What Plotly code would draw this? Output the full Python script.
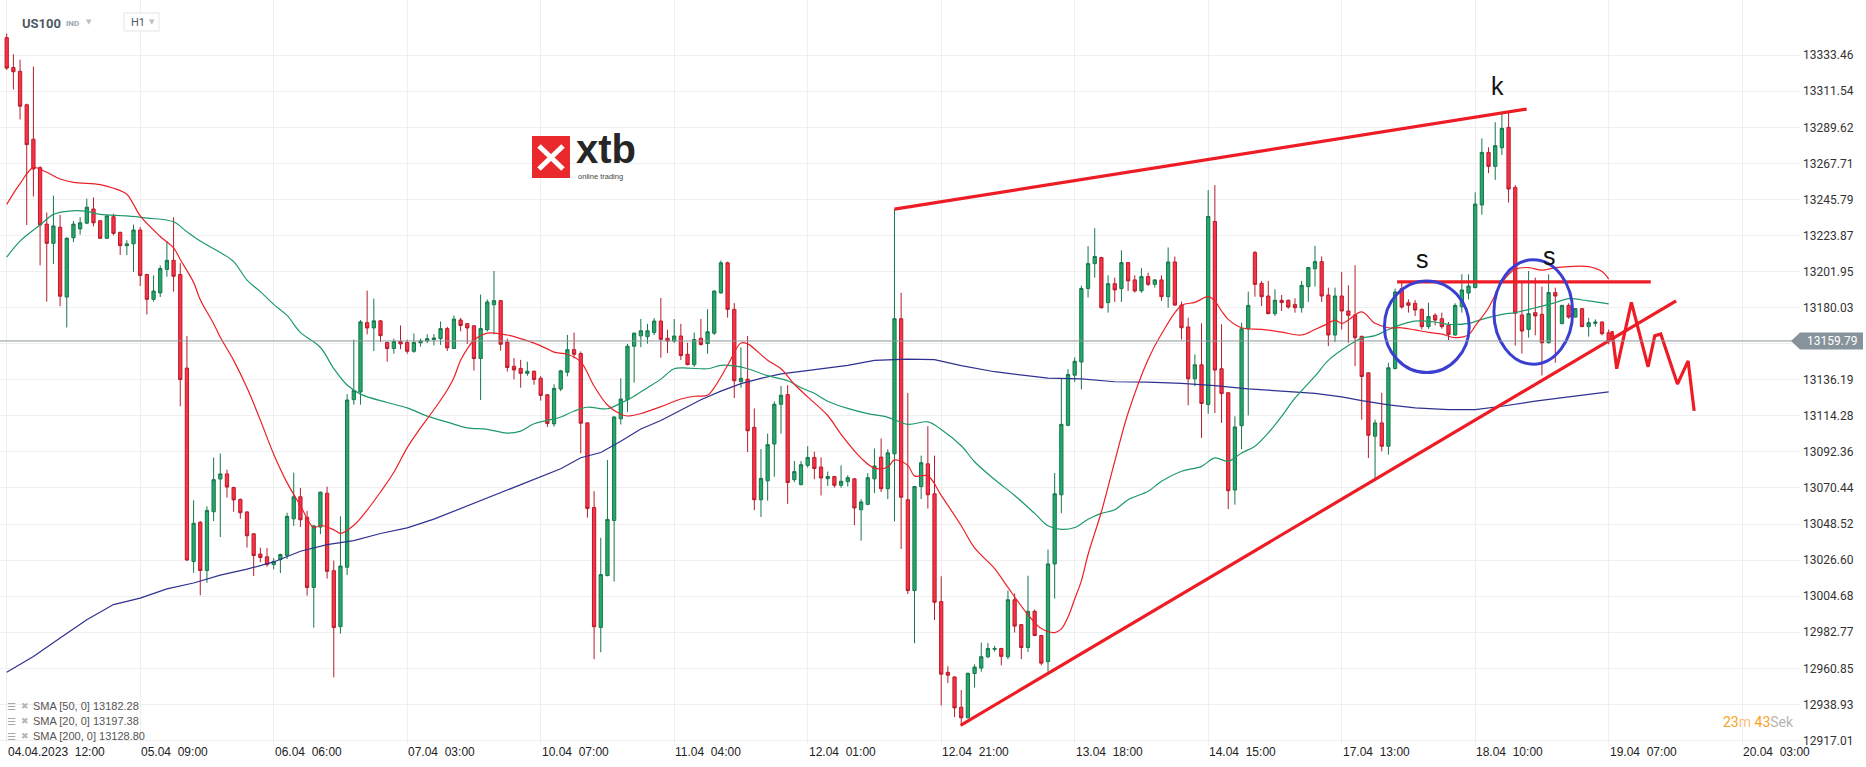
import plotly.graph_objects as go

# ---------------- data (H1 candles, index 0 = 04.04.2023 12:00) ----------------
opens = [
    13344.1, 13326.0, 13323.7, 13303.3, 13282.4, 13265.1, 13230.8, 13219.1, 13228.9, 13186.5,
    13222.5, 13227.9, 13231.4, 13240.0, 13232.8, 13222.2, 13235.3, 13225.8, 13217.7, 13218.8,
    13227.2, 13200.2, 13185.1, 13189.0, 13203.3, 13208.8, 13200.2, 13143.3, 13025.8, 13049.6,
    13020.3, 13056.0, 13075.9, 13079.0, 13070.7, 13063.5, 13055.9, 13042.6, 13030.3, 13028.6,
    13023.9, 13026.9, 13029.5, 13051.7, 13065.1, 13052.6, 13010.0, 13046.7, 13067.3, 13020.2,
    12986.2, 13022.3, 13124.1, 13128.8, 13170.9, 13167.7, 13172.0, 13158.9, 13155.2, 13159.5,
    13158.9, 13153.5, 13158.7, 13159.8, 13160.6, 13161.2, 13167.3, 13155.2, 13172.5, 13170.3,
    13169.0, 13149.1, 13166.6, 13181.8, 13184.3, 13159.1, 13144.4, 13143.1, 13140.1, 13141.4,
    13137.1, 13127.1, 13109.4, 13130.6, 13140.8, 13154.5, 13152.1, 13110.0, 13058.6, 12985.7,
    13017.2, 13050.7, 13112.5, 13124.1, 13156.6, 13162.9, 13162.4, 13165.0, 13171.9, 13161.4,
    13159.7, 13162.8, 13151.7, 13145.4, 13161.4, 13158.2, 13164.5, 13189.0, 13207.3, 13179.0,
    13135.2, 13136.6, 13107.3, 13063.3, 13074.8, 13097.2, 13121.3, 13127.2, 13075.5, 13072.5,
    13084.2, 13089.0, 13083.2, 13076.1, 13077.4, 13072.1, 13074.3, 13076.0, 13057.2, 13060.5,
    13076.0, 13089.2, 13070.0, 13091.2, 13173.3, 13063.3, 13008.1, 13071.3, 13085.1, 13066.9,
    13001.4, 12958.4, 12955.6, 12937.2, 12930.8, 12957.7, 12961.0, 12967.9, 12972.4, 12972.9,
    12967.9, 13002.5, 12987.4, 12973.5, 12995.5, 12980.8, 12964.9, 13024.3, 13066.3, 13108.5,
    13139.0, 13147.0, 13191.7, 13206.8, 13210.5, 13183.1, 13194.6, 13191.6, 13207.4, 13196.9,
    13190.2, 13198.9, 13194.2, 13196.9, 13186.7, 13207.8, 13181.6, 13168.3, 13136.8, 13145.3,
    13121.2, 13232.4, 13142.9, 13128.3, 13069.2, 13108.3, 13167.2, 13213.5, 13194.8, 13187.1,
    13176.4, 13184.5, 13184.5, 13182.0, 13180.0, 13192.8, 13203.7, 13208.0, 13187.7, 13163.4,
    13187.1, 13178.0, 13175.6, 13162.6, 13140.4, 13101.9, 13110.0, 13095.8, 13143.0, 13191.6,
    13183.0, 13182.7, 13179.0, 13168.5, 13175.4, 13173.3, 13169.3, 13163.4, 13180.6, 13188.9,
    13192.2, 13242.4, 13274.4, 13265.9, 13277.2, 13289.6, 13253.1, 13175.6, 13166.8, 13177.0,
    13176.0, 13158.7, 13189.2, 13170.3, 13181.4, 13174.3, 13179.4, 13168.5, 13170.5, 13171.3,
    13164.8,
]
highs = [
    13346.6, 13334.0, 13330.7, 13304.0, 13326.5, 13266.0, 13237.8, 13248.1, 13236.4, 13222.8,
    13232.7, 13235.0, 13246.2, 13247.0, 13233.3, 13236.3, 13237.1, 13226.2, 13221.0, 13230.5,
    13229.0, 13200.6, 13199.6, 13205.7, 13220.5, 13235.0, 13207.1, 13162.8, 13062.9, 13050.4,
    13059.3, 13088.9, 13091.4, 13081.6, 13071.2, 13064.0, 13056.3, 13043.0, 13034.2, 13033.9,
    13027.8, 13030.6, 13055.4, 13079.8, 13070.5, 13056.5, 13047.8, 13068.3, 13071.2, 13026.3,
    13053.2, 13127.5, 13160.6, 13172.5, 13190.4, 13185.6, 13172.5, 13159.3, 13161.2, 13169.2,
    13160.6, 13164.3, 13161.2, 13163.9, 13163.9, 13171.6, 13168.4, 13175.3, 13173.8, 13170.6,
    13169.4, 13188.0, 13185.0, 13202.3, 13184.7, 13161.2, 13149.4, 13148.3, 13147.2, 13141.8,
    13138.4, 13127.5, 13133.5, 13142.3, 13163.5, 13164.9, 13153.4, 13110.4, 13068.5, 13040.2,
    13087.4, 13114.0, 13137.1, 13158.0, 13165.0, 13173.1, 13170.2, 13173.7, 13185.9, 13166.6,
    13173.1, 13170.2, 13158.7, 13164.9, 13173.1, 13179.0, 13190.5, 13208.7, 13208.0, 13182.8,
    13155.9, 13162.8, 13118.8, 13094.1, 13103.5, 13123.0, 13132.4, 13132.9, 13086.8, 13086.8,
    13095.8, 13092.5, 13089.0, 13080.4, 13077.8, 13084.2, 13078.2, 13076.4, 13063.7, 13079.5,
    13094.4, 13100.5, 13094.0, 13239.9, 13189.1, 13128.1, 13071.7, 13090.1, 13108.0, 13090.1,
    13016.8, 12962.1, 12956.0, 12947.6, 12958.2, 12963.2, 12976.5, 12976.2, 12974.5, 12973.3,
    13008.1, 13006.4, 12987.8, 13017.1, 12996.6, 12981.2, 13033.0, 13079.5, 13137.2, 13142.6,
    13149.8, 13193.4, 13217.4, 13228.3, 13211.0, 13199.7, 13198.3, 13214.9, 13207.8, 13199.7,
    13204.0, 13201.3, 13197.3, 13199.7, 13216.6, 13211.1, 13183.7, 13173.9, 13151.6, 13170.5,
    13251.5, 13254.5, 13169.9, 13128.7, 13114.0, 13170.9, 13189.8, 13214.5, 13196.3, 13196.3,
    13191.2, 13187.7, 13185.0, 13185.7, 13196.3, 13204.8, 13217.6, 13211.1, 13192.2, 13192.2,
    13201.7, 13193.6, 13205.8, 13163.0, 13140.8, 13112.0, 13128.3, 13146.5, 13191.6, 13196.3,
    13185.1, 13184.7, 13179.5, 13183.1, 13176.6, 13177.0, 13171.3, 13182.7, 13200.3, 13200.3,
    13250.1, 13282.9, 13277.5, 13292.7, 13298.5, 13298.5, 13254.5, 13195.9, 13202.4, 13198.3,
    13192.8, 13200.3, 13192.2, 13181.8, 13182.7, 13179.8, 13179.8, 13173.9, 13172.9, 13171.7,
    13166.8,
]
lows = [
    13324.5, 13312.6, 13294.4, 13230.3, 13247.6, 13205.7, 13183.7, 13206.6, 13180.9, 13168.0,
    13219.9, 13224.4, 13230.8, 13229.4, 13221.8, 13221.8, 13224.0, 13212.1, 13212.0, 13201.8,
    13193.2, 13175.9, 13183.7, 13186.5, 13198.8, 13189.8, 13120.1, 13026.0, 13018.9, 13005.2,
    13012.8, 13050.4, 13040.6, 13064.6, 13056.0, 13051.8, 13034.2, 13016.9, 13025.3, 13022.5,
    13021.0, 13018.7, 13027.3, 13047.4, 13046.8, 13005.0, 12985.6, 13042.4, 13015.4, 12955.4,
    12981.9, 13017.6, 13121.1, 13121.1, 13163.8, 13153.7, 13159.1, 13147.2, 13152.0, 13154.8,
    13152.0, 13152.6, 13156.4, 13158.5, 13157.1, 13157.4, 13153.7, 13155.0, 13165.6, 13158.0,
    13141.8, 13123.9, 13165.6, 13163.8, 13153.9, 13141.2, 13136.4, 13131.4, 13138.6, 13133.2,
    13123.5, 13107.5, 13107.7, 13129.3, 13138.3, 13149.2, 13091.6, 13052.4, 12966.4, 12970.6,
    13016.8, 13013.6, 13109.0, 13116.7, 13134.5, 13156.0, 13158.2, 13163.3, 13149.6, 13152.4,
    13158.5, 13148.2, 13145.0, 13144.0, 13157.0, 13152.0, 13163.5, 13188.5, 13174.0, 13125.1,
    13131.4, 13092.2, 13057.0, 13052.8, 13062.7, 13077.3, 13103.5, 13060.8, 13074.0, 13072.0,
    13082.8, 13075.8, 13065.9, 13071.7, 13070.6, 13070.6, 13071.3, 13047.9, 13038.4, 13060.0,
    13067.4, 13068.0, 13063.7, 13050.1, 13033.4, 13006.0, 12976.1, 13063.7, 13057.9, 12990.2,
    12938.3, 12951.9, 12931.2, 12927.5, 12930.4, 12949.2, 12958.8, 12967.0, 12971.0, 12962.7,
    12966.4, 12982.6, 12966.4, 12970.8, 12980.4, 12962.7, 12958.8, 13003.2, 13055.1, 13108.0,
    13135.0, 13130.3, 13186.2, 13198.3, 13179.4, 13177.0, 13183.5, 13183.5, 13190.2, 13189.2,
    13189.2, 13193.2, 13192.2, 13184.1, 13180.0, 13181.2, 13160.7, 13120.7, 13132.3, 13100.9,
    13115.5, 13116.0, 13110.0, 13057.6, 13060.3, 13094.0, 13114.5, 13186.7, 13181.0, 13176.0,
    13175.0, 13178.0, 13179.4, 13177.0, 13177.0, 13183.5, 13192.8, 13183.5, 13156.7, 13159.1,
    13166.8, 13158.7, 13144.5, 13112.0, 13088.7, 13075.6, 13092.7, 13090.7, 13142.5, 13179.4,
    13177.0, 13175.0, 13166.8, 13167.2, 13169.3, 13167.2, 13160.3, 13163.0, 13177.0, 13185.1,
    13191.8, 13236.5, 13261.8, 13257.7, 13272.8, 13243.9, 13157.0, 13152.2, 13161.8, 13163.2,
    13138.8, 13158.3, 13146.5, 13170.0, 13173.3, 13174.0, 13168.3, 13162.4, 13168.5, 13163.2,
    13157.7,
]
closes = [
    13325.6, 13323.4, 13302.5, 13279.1, 13264.3, 13230.3, 13219.1, 13229.7, 13187.0, 13222.2,
    13230.8, 13231.6, 13241.1, 13231.6, 13222.2, 13235.8, 13225.2, 13217.7, 13218.8, 13227.2,
    13199.6, 13185.1, 13190.1, 13203.8, 13208.8, 13199.1, 13136.3, 13026.7, 13049.0, 13020.3,
    13056.8, 13075.5, 13079.0, 13071.0, 13063.2, 13055.4, 13041.4, 13029.4, 13028.2, 13023.9,
    13025.8, 13030.0, 13053.2, 13065.1, 13051.1, 13010.0, 13047.4, 13067.9, 13019.8, 12985.6,
    13023.0, 13123.9, 13129.7, 13171.4, 13167.7, 13172.0, 13163.0, 13155.2, 13159.5, 13158.0,
    13153.5, 13158.9, 13159.8, 13161.2, 13161.6, 13167.3, 13155.6, 13173.1, 13169.2, 13167.7,
    13149.1, 13167.3, 13183.5, 13184.3, 13157.8, 13143.7, 13142.2, 13140.1, 13141.4, 13136.4,
    13126.7, 13109.6, 13131.0, 13141.6, 13154.5, 13151.7, 13109.8, 13058.0, 12986.1, 13017.8,
    13051.3, 13113.6, 13124.5, 13156.6, 13164.5, 13166.0, 13166.0, 13171.9, 13160.8, 13159.7,
    13162.8, 13150.9, 13145.4, 13160.7, 13157.6, 13165.4, 13190.1, 13207.3, 13179.0, 13135.6,
    13137.1, 13105.2, 13063.3, 13076.3, 13096.8, 13121.3, 13126.8, 13073.8, 13080.4, 13084.6,
    13089.0, 13082.3, 13076.5, 13077.4, 13072.1, 13074.5, 13076.7, 13058.3, 13062.0, 13076.7,
    13083.8, 13070.0, 13091.8, 13173.3, 13064.8, 13008.1, 13071.3, 13085.8, 13066.3, 13001.0,
    12957.3, 12956.7, 12936.8, 12930.8, 12957.8, 12961.6, 12967.9, 12972.9, 12972.9, 12968.1,
    13002.5, 12986.5, 12973.5, 12995.5, 12980.8, 12964.0, 13024.3, 13066.9, 13109.1, 13139.4,
    13147.4, 13191.7, 13206.8, 13211.1, 13180.0, 13194.6, 13190.8, 13207.4, 13196.3, 13190.2,
    13198.9, 13194.2, 13196.9, 13186.7, 13207.8, 13181.6, 13167.8, 13136.8, 13145.3, 13121.8,
    13235.4, 13142.1, 13127.8, 13068.8, 13107.5, 13167.2, 13181.4, 13194.2, 13186.7, 13176.4,
    13184.5, 13183.1, 13180.4, 13180.0, 13193.6, 13204.4, 13208.0, 13187.1, 13163.4, 13187.1,
    13178.0, 13175.4, 13161.8, 13138.2, 13102.5, 13110.0, 13095.8, 13143.5, 13189.6, 13180.4,
    13181.5, 13178.6, 13168.5, 13174.6, 13172.5, 13168.5, 13163.8, 13181.4, 13190.8, 13193.2,
    13243.0, 13274.4, 13265.9, 13278.5, 13289.0, 13252.1, 13176.6, 13165.8, 13176.4, 13175.0,
    13158.7, 13189.2, 13187.1, 13181.4, 13174.3, 13179.4, 13168.5, 13170.9, 13171.3, 13164.2,
    13159.79,
]

# moving averages (candle index, value)
sma20_idx = [0, 2, 4, 6, 8, 10, 14, 16, 18, 19, 20, 23, 25, 26, 28, 29, 31, 32, 34, 36, 38, 40,
             42, 44, 46, 47, 49, 50, 52, 54, 56, 58, 60, 62, 64, 66, 67, 68, 69, 70, 72, 75, 77,
             79, 81, 82, 84, 86, 88, 90, 92, 93, 95, 98, 101, 103, 105, 106, 108, 110, 111, 114,
             116, 118, 120, 123, 125, 128, 130, 132, 133, 135, 136, 138, 140, 143, 145, 148, 150,
             153, 155, 157, 158, 159, 160, 161, 162, 163, 164, 166, 168, 171, 173, 176, 178, 180,
             181, 182, 183, 185, 188, 191, 194, 196, 198, 199, 200, 201, 203, 205, 207, 209, 211,
             213, 215, 217, 219, 220, 222, 224, 226, 228, 230, 232, 234, 237, 239, 240]
sma20_val = [13242.8, 13255.4, 13265.1, 13262.3, 13258.2, 13256.2, 13254.8, 13252.6, 13249.0,
             13242.8, 13235.8, 13223.3, 13216.3, 13209.3, 13195.4, 13184.8, 13170.3, 13162.0,
             13148.0, 13131.3, 13111.7, 13091.0, 13073.7, 13059.7, 13046.3, 13047.8, 13045.0,
             13042.9, 13047.8, 13057.0, 13068.0, 13080.0, 13095.0, 13107.0, 13118.0, 13130.0,
             13137.5, 13148.0, 13155.0, 13160.2, 13164.5, 13163.4, 13161.2, 13158.5, 13155.0,
             13153.0, 13151.7, 13147.1, 13132.4, 13120.9, 13115.3, 13114.2, 13115.7, 13119.9,
             13124.5, 13126.2, 13126.8, 13131.4, 13145.0, 13158.6, 13158.0, 13148.1, 13142.9,
             13133.5, 13125.8, 13114.5, 13103.0, 13088.6, 13082.5, 13083.2, 13087.5, 13084.2,
             13077.8, 13077.8, 13066.0, 13047.5, 13034.0, 13021.5, 13010.0, 12993.4, 12985.0,
             12982.6, 12984.8, 12992.0, 13003.0, 13014.0, 13030.0, 13043.0, 13056.0, 13086.6,
             13116.0, 13148.6, 13164.0, 13181.4, 13183.2, 13186.7, 13184.0, 13178.0, 13172.9,
             13167.8, 13166.8, 13165.2, 13163.4, 13166.8, 13170.5, 13172.5, 13170.5, 13172.5,
             13177.5, 13170.5, 13167.8, 13167.8, 13166.5, 13165.0, 13164.0, 13161.8, 13163.5,
             13168.9, 13180.0, 13195.3, 13203.4, 13204.4, 13202.8, 13204.4, 13205.0, 13205.0,
             13202.0, 13197.38]

sma50_idx = [0, 2, 5, 7, 9, 12, 14, 18, 21, 25, 27, 29, 32, 34, 36, 38, 40, 42, 44, 47, 49, 51,
             53, 57, 60, 63, 66, 69, 72, 75, 77, 79, 81, 83, 85, 87, 90, 92, 94, 96, 98, 100, 102,
             105, 107, 109, 111, 114, 117, 119, 121, 123, 126, 129, 132, 135, 138, 140, 143, 145,
             148, 151, 154, 156, 158, 160, 162, 164, 166, 168, 171, 173, 176, 179, 181, 183, 185,
             187, 189, 191, 193, 196, 198, 201, 203, 205, 207, 209, 211, 214, 216, 219, 221, 224,
             226, 229, 232, 234, 237, 240]
sma50_val = [13210.7, 13220.5, 13230.3, 13236.7, 13238.6, 13238.6, 13236.7, 13235.8, 13234.5,
             13232.2, 13226.1, 13220.5, 13213.5, 13208.0, 13196.8, 13189.8, 13182.0, 13175.3,
             13165.0, 13155.8, 13143.0, 13133.0, 13127.5, 13122.4, 13119.1, 13114.1, 13110.5,
             13107.0, 13106.1, 13103.8, 13105.0, 13109.5, 13111.5, 13113.6, 13117.2, 13119.5,
             13118.6, 13122.0, 13126.2, 13131.4, 13136.6, 13142.9, 13143.3, 13142.9, 13145.0,
             13144.6, 13142.9, 13138.7, 13135.6, 13131.4, 13128.0, 13123.2, 13118.8, 13115.6,
             13113.4, 13109.1, 13110.6, 13106.0, 13096.1, 13086.4, 13075.6, 13065.9, 13055.0,
             13047.5, 13045.3, 13046.4, 13051.5, 13055.0, 13057.2, 13063.3, 13068.4, 13074.5,
             13080.6, 13083.6, 13088.7, 13086.6, 13091.7, 13095.8, 13103.9, 13114.0, 13125.0,
             13138.4, 13148.0, 13157.0, 13161.5, 13163.0, 13166.8, 13169.9, 13171.9, 13171.3,
             13169.9, 13170.5, 13172.9, 13176.0, 13177.0, 13180.0, 13183.1, 13185.5, 13184.1,
             13182.28]

sma200_idx = [0, 4, 8, 12, 16, 20, 24, 28, 32, 36, 40, 44, 48, 52, 56, 60, 64, 68, 72, 76, 80,
              83, 86, 89, 92, 95, 98, 101, 104, 107, 110, 113, 116, 119, 122, 126, 130, 135, 139,
              143, 148, 152, 156, 161, 166, 171, 176, 181, 186, 191, 196, 200, 203, 207, 211, 216,
              220, 224, 229, 234, 240]
sma200_val = [12958.4, 12968.1, 12979.3, 12990.4, 12999.6, 13003.5, 13009.1, 13012.7, 13017.5,
              13021.1, 13025.5, 13032.0, 13036.0, 13038.5, 13042.8, 13046.2, 13051.5, 13058.0,
              13064.5, 13071.0, 13077.5, 13082.1, 13088.8, 13092.0, 13098.9, 13106.3, 13111.5,
              13117.8, 13124.1, 13129.3, 13133.9, 13137.1, 13139.8, 13141.3, 13142.9, 13145.0,
              13148.0, 13148.7, 13148.5, 13144.8, 13141.1, 13139.2, 13137.2, 13136.7, 13135.0,
              13134.8, 13134.0, 13132.7, 13130.7, 13129.3, 13127.9, 13125.8, 13123.5, 13121.0,
              13119.1, 13118.1, 13118.1, 13120.1, 13123.2, 13125.8, 13128.80]

# hand-drawn analysis overlay (candle index, price)
top_line_x, top_line_y = [133, 227.7], [13239.9, 13300.7]
support_x, support_y = [142.9, 250.1], [12926.2, 13184.2]
neck_x, neck_y = [208.3, 246.3], [13195.7, 13195.7]
zigzag_x = [240.5, 241.2, 243.4, 245.9, 246.9, 247.8, 250.3, 251.9, 252.8]
zigzag_y = [13165.8, 13142.9, 13183.2, 13144.1, 13162.9, 13164.0, 13133.6, 13147.7, 13117.3]
ellipses = [(206.4, 219.1, 13140.6, 13196.3), (222.8, 234.6, 13145.7, 13209.1)]
letters = [("k", 222.1, 13314.5), ("s", 210.8, 13209.5), ("s", 229.9, 13211.5)]

# axis ticks
y_ticks = [12917.01, 12938.93, 12960.85, 12982.77, 13004.68, 13026.60, 13048.52, 13070.44,
           13092.36, 13114.28, 13136.19, 13158.11, 13180.03, 13201.95, 13223.87, 13245.79,
           13267.71, 13289.62, 13311.54, 13333.46]
x_tick_idx = list(range(0, 261, 20))
x_tick_text = ["04.04.2023  12:00", "05.04  09:00", "06.04  06:00", "07.04  03:00",
               "10.04  07:00", "11.04  04:00", "12.04  01:00", "12.04  21:00", "13.04  18:00",
               "14.04  15:00", "17.04  13:00", "18.04  10:00", "19.04  07:00", "20.04  03:00"]
last_price = 13159.79
legend_rows = ["SMA [50,  0] 13182.28", "SMA [20,  0] 13197.38", "SMA [200,  0] 13128.80"]

# ---------------- figure ----------------
W, H = 1866, 767
PW, PH = 1800, 745  # plot area in pixels


def px(x):
    return x / PW


def py(y):
    return 1 - y / PH


FONT = "Roboto, Liberation Sans, Arial, sans-serif"
RED = "#ee1c25"

fig = go.Figure()
idx = list(range(len(opens)))

fig.add_trace(go.Candlestick(
    x=idx, open=opens, high=highs, low=lows, close=closes,
    increasing=dict(line=dict(color="#17774a", width=1), fillcolor="#25a86b"),
    decreasing=dict(line=dict(color="#b51d2b", width=1), fillcolor="#fd3146"),
    whiskerwidth=0, showlegend=False, hoverinfo="skip",
))

fig.add_trace(go.Scatter(x=sma200_idx, y=sma200_val, mode="lines",
                         line=dict(color="#2f3190", width=1.2), showlegend=False))
fig.add_trace(go.Scatter(x=sma50_idx, y=sma50_val, mode="lines",
                         line=dict(color="#1e9a68", width=1.2, shape="spline"), showlegend=False))
fig.add_trace(go.Scatter(x=sma20_idx, y=sma20_val, mode="lines",
                         line=dict(color="#ec2027", width=1.2, shape="spline"), showlegend=False))

# overlay drawings
for xs, ys in [(top_line_x, top_line_y), (support_x, support_y), (neck_x, neck_y),
               (zigzag_x, zigzag_y)]:
    fig.add_trace(go.Scatter(x=xs, y=ys, mode="lines", line=dict(color=RED, width=3.2),
                             showlegend=False, hoverinfo="skip"))

shapes = []
for x0, x1, y0, y1 in ellipses:
    shapes.append(dict(type="circle", xref="x", yref="y", x0=x0, x1=x1, y0=y0, y1=y1,
                       line=dict(color="#3b3fd1", width=3)))

# last price line + tag
shapes.append(dict(type="line", xref="paper", yref="y", x0=0, x1=1, y0=last_price,
                   y1=last_price, line=dict(color="#8b969b", width=1)))
yc = 1 - (55.2 + (13333.46 - last_price) * 1.6455) / PH
shapes.append(dict(type="path", xref="paper", yref="paper", fillcolor="#87939a",
                   line=dict(width=0),
                   path=f"M {px(1791)},{yc} L {px(1800)},{yc + 8.5 / PH} L {px(1863)},{yc + 8.5 / PH} "
                        f"L {px(1863)},{yc - 8.5 / PH} L {px(1800)},{yc - 8.5 / PH} Z"))

# xtb logo
shapes.append(dict(type="rect", xref="paper", yref="paper", x0=px(532), x1=px(570),
                   y0=py(178), y1=py(136), fillcolor="#e9292b", line=dict(width=0)))
shapes.append(dict(type="line", xref="paper", yref="paper", x0=px(539), y0=py(146),
                   x1=px(563), y1=py(169), line=dict(color="white", width=5)))
shapes.append(dict(type="line", xref="paper", yref="paper", x0=px(539), y0=py(169),
                   x1=px(563), y1=py(146), line=dict(color="white", width=5)))
# timeframe box
shapes.append(dict(type="rect", xref="paper", yref="paper", x0=px(124), x1=px(159),
                   y0=py(31), y1=py(13), line=dict(color="#e2e5e8", width=1), fillcolor="white"))

ann = []
for t, xi, yv in letters:
    ann.append(dict(x=xi, y=yv, xref="x", yref="y", text=t, showarrow=False,
                    font=dict(family="Liberation Sans, Arial", size=25, color="#111")))

for i, t in zip(x_tick_idx, x_tick_text):
    ann.append(dict(x=i, y=py(752), xref="x", yref="paper", text=t.replace("  ", "\u00a0 "),
                    showarrow=False, xanchor="left", yanchor="middle", xshift=-1,
                    font=dict(family="Liberation Sans, Arial", size=12, color="#222")))

ann.append(dict(x=px(1805), y=yc, xref="paper", yref="paper", text=f"{last_price:.2f}",
                showarrow=False, xanchor="left", yanchor="middle",
                font=dict(family=FONT, size=12, color="white")))

# header
ann += [
    dict(x=px(20), y=py(23), text="<b>US100</b>", font=dict(family=FONT, size=13, color="#4e5963")),
    dict(x=px(64), y=py(23), text="<b>IND</b>", font=dict(family=FONT, size=8, color="#9aa5ad")),
    dict(x=px(84), y=py(22), text="▼", font=dict(family="DejaVu Sans", size=7, color="#b9c0c6")),
    dict(x=px(129), y=py(22.5), text="H1", font=dict(family=FONT, size=11, color="#4e5963")),
    dict(x=px(147), y=py(22), text="▼", font=dict(family="DejaVu Sans", size=7, color="#b9c0c6")),
]
# logo text: one two-line block, word mark over the small tagline
ann.append(dict(x=px(574), y=py(154.5), align="left",
                text="<span style='font-size:40px;color:#262626'><b>xtb</b></span><br>"
                     "<span style='font-size:7.5px;color:#444'>\u00a0online trading</span>",
                font=dict(family="Liberation Sans, Arial", size=12, color="#444")))
# indicator legend
for k, row in enumerate(legend_rows):
    yy = py(706 + 15 * k)
    ann.append(dict(x=px(5), y=yy, text="☰", font=dict(family="DejaVu Sans", size=10, color="#a8a8a8")))
    ann.append(dict(x=px(19), y=yy, text="✖", font=dict(family="DejaVu Sans", size=9, color="#b5b5b5")))
    ann.append(dict(x=px(31), y=yy, text=row.replace("  ", " "),
                    font=dict(family="Liberation Sans, Arial", size=11, color="#555")))
# candle timer
ann.append(dict(x=px(1721), y=py(722),
                text="<span style='color:#f6a21c'>23</span><span style='color:#f8c37e'>m</span> "
                     "<span style='color:#f6a21c'>43</span><span style='color:#b5b5b5'>Sek</span>",
                font=dict(family=FONT, size=14)))

for a in ann:
    a.setdefault("xref", "paper")
    a.setdefault("yref", "paper")
    a.setdefault("showarrow", False)
    a.setdefault("xanchor", "left")
    a.setdefault("yanchor", "middle")

y_text = ["" if abs(v - 13158.11) < 0.01 else f"{v:.2f}" for v in y_ticks]

fig.update_layout(
    width=W, height=H, autosize=False,
    margin=dict(l=0, r=W - PW, t=0, b=H - PH, pad=0),
    paper_bgcolor="white", plot_bgcolor="white",
    font=dict(family=FONT, color="#333"),
    shapes=shapes, annotations=ann,
    xaxis=dict(range=[-1.004, 268.66], tickvals=x_tick_idx, showticklabels=False,
               showgrid=True, gridcolor="#efefef", gridwidth=1, zeroline=False,
               showline=False, ticks="", rangeslider=dict(visible=False), fixedrange=True),
    yaxis=dict(range=[12914.25, 13367.0], side="right", tickvals=y_ticks, ticktext=y_text,
               showgrid=True, gridcolor="#efefef", gridwidth=1, zeroline=False,
               showline=False, ticks="", ticklabelstandoff=2,
               tickfont=dict(family=FONT, size=12, color="#333"), fixedrange=True),
    hovermode=False,
)

fig.write_html("out.html", config={"displayModeBar": False},
               post_script="document.body.style.margin='0';document.body.style.overflow='hidden';")
